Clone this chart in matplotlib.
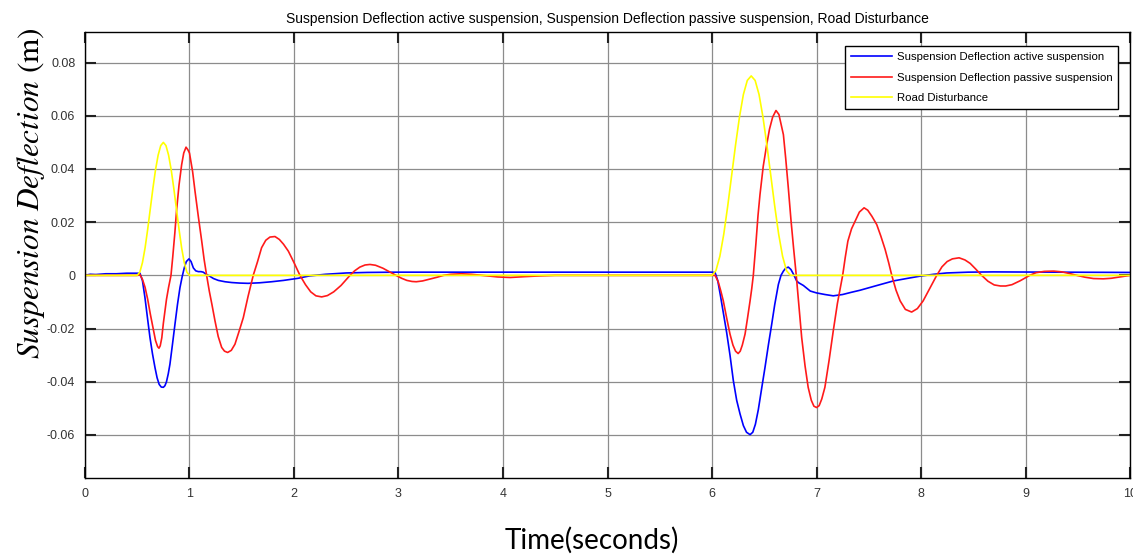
import matplotlib
matplotlib.use("Agg")
import matplotlib.pyplot as plt

# time / value pairs
t_active = [0.0, 0.05, 0.1, 0.2, 0.3, 0.4, 0.5, 0.526, 0.55, 0.574, 0.598, 0.622, 0.646,
            0.67, 0.69, 0.71, 0.73, 0.75, 0.765, 0.78, 0.797, 0.813, 0.837, 0.861, 0.885,
            0.909, 0.93, 0.95, 0.97, 0.995, 1.015, 1.037, 1.06, 1.085, 1.11, 1.132, 1.155,
            1.18, 1.23, 1.276, 1.34, 1.404, 1.48, 1.56, 1.67, 1.786, 1.9, 2.04, 2.1, 2.15,
            2.3, 2.5, 2.7, 2.98, 4.0, 5.0, 6.0, 6.03, 6.055, 6.08, 6.11, 6.14, 6.172, 6.204,
            6.236, 6.268, 6.30, 6.33, 6.364, 6.39, 6.415, 6.443, 6.475, 6.507, 6.54, 6.571,
            6.60, 6.635, 6.66, 6.683, 6.705, 6.73, 6.755, 6.78, 6.81, 6.83, 6.874, 6.94,
            7.0, 7.08, 7.16, 7.25, 7.33, 7.416, 7.57, 7.735, 7.86, 7.99, 8.12, 8.245, 8.45,
            8.69, 9.3, 10.0]
y_active = [0.0, 0.0004, 0.0003, 0.0006, 0.0006, 0.0008, 0.0008, 0.0008, -0.002, -0.0084,
            -0.016, -0.0234, -0.0295, -0.0347, -0.0385, -0.041, -0.042, -0.0421, -0.0415,
            -0.040, -0.037, -0.0334, -0.026, -0.0184, -0.011, -0.0046, -0.0005, 0.0028,
            0.0052, 0.0062, 0.0052, 0.0028, 0.0017, 0.0014, 0.0014, 0.0012, 0.0005, 0.0,
            -0.0012, -0.0019, -0.0024, -0.0027, -0.0029, -0.003, -0.0028, -0.0024, -0.0019,
            -0.0011, -0.0006, -0.0002, 0.0004, 0.0009, 0.0011, 0.0012, 0.0012, 0.0012,
            0.0012, 0.0010, -0.002, -0.0075, -0.0145, -0.0215, -0.030, -0.0396, -0.047,
            -0.0521, -0.0565, -0.059, -0.0599, -0.059, -0.056, -0.0505, -0.0425, -0.0346,
            -0.026, -0.0184, -0.011, -0.0034, 0.0, 0.0016, 0.0027, 0.0031, 0.0022, 0.0004,
            -0.0021, -0.0028, -0.0038, -0.0059, -0.0066, -0.0072, -0.0077, -0.0072, -0.0064,
            -0.0056, -0.0039, -0.0021, -0.0012, -0.0003, 0.0004, 0.0009, 0.0012, 0.0013,
            0.0012, 0.0011]

t_passive = [0.0, 0.5, 0.526, 0.55, 0.575, 0.60, 0.625, 0.65, 0.675, 0.695, 0.708, 0.72,
             0.735, 0.75, 0.765, 0.78, 0.80, 0.823, 0.84, 0.86, 0.877, 0.90, 0.925, 0.945,
             0.967, 0.985, 1.0, 1.03, 1.053, 1.085, 1.117, 1.14, 1.164, 1.19, 1.215, 1.244,
             1.275, 1.308, 1.335, 1.365, 1.40, 1.435, 1.475, 1.515, 1.56, 1.61, 1.65, 1.69,
             1.73, 1.77, 1.818, 1.86, 1.90, 1.946, 2.0, 2.057, 2.11, 2.16, 2.21, 2.265, 2.32,
             2.38, 2.45, 2.536, 2.58, 2.63, 2.68, 2.727, 2.78, 2.85, 2.91, 2.976, 3.03, 3.08,
             3.13, 3.17, 3.23, 3.3, 3.37, 3.43, 3.5, 3.6, 3.7, 3.8, 3.95, 4.07, 4.2, 4.35,
             4.5, 6.0, 6.03, 6.06, 6.085, 6.108, 6.14, 6.172, 6.2, 6.225, 6.25, 6.27, 6.29,
             6.316, 6.34, 6.364, 6.38, 6.395, 6.42, 6.44, 6.459, 6.49, 6.523, 6.55, 6.58,
             6.612, 6.64, 6.66, 6.683, 6.705, 6.73, 6.755, 6.78, 6.806, 6.83, 6.858, 6.89,
             6.92, 6.95, 6.975, 7.0, 7.025, 7.05, 7.08, 7.12, 7.16, 7.2, 7.25, 7.275, 7.30,
             7.335, 7.37, 7.41, 7.455, 7.49, 7.53, 7.576, 7.615, 7.656, 7.69, 7.72, 7.76,
             7.80, 7.85, 7.91, 7.965, 8.02, 8.08, 8.15, 8.2, 8.25, 8.30, 8.364, 8.42, 8.47,
             8.52, 8.58, 8.64, 8.7, 8.76, 8.81, 8.87, 8.95, 9.04, 9.1, 9.18, 9.27, 9.35,
             9.42, 9.49, 9.57, 9.65, 9.745, 9.82, 9.9, 10.0]
y_passive = [0.0, 0.0, 0.0003, -0.0015, -0.0045, -0.009, -0.0145, -0.0195, -0.0245, -0.0268,
             -0.0274, -0.0265, -0.0235, -0.018, -0.0135, -0.009, -0.0045, 0.0, 0.007, 0.016,
             0.0247, 0.034, 0.0416, 0.046, 0.0482, 0.0472, 0.046, 0.039, 0.0316, 0.022,
             0.0129, 0.006, 0.0, -0.006, -0.011, -0.0171, -0.023, -0.0271, -0.0285, -0.029,
             -0.0282, -0.0259, -0.021, -0.0159, -0.008, 0.0, 0.005, 0.0104, 0.0132, 0.0144,
             0.0146, 0.0135, 0.0117, 0.0091, 0.0048, 0.0, -0.0035, -0.0062, -0.0077, -0.0081,
             -0.0076, -0.0062, -0.0038, 0.0, 0.0017, 0.0031, 0.0039, 0.0041, 0.0038, 0.0027,
             0.0014, 0.0, -0.0011, -0.0019, -0.0023, -0.0024, -0.0021, -0.0014, -0.0007, 0.0,
             0.0004, 0.0006, 0.0004, 0.0, -0.0006, -0.0008, -0.0005, -0.0002, 0.0, 0.0, 0.0,
             -0.0025, -0.006, -0.0096, -0.016, -0.0221, -0.0262, -0.0285, -0.0294, -0.0285,
             -0.0262, -0.0221, -0.016, -0.0096, -0.005, 0.0, 0.012, 0.0225, 0.0304, 0.041,
             0.0491, 0.055, 0.0595, 0.062, 0.0605, 0.057, 0.0529, 0.044, 0.0329, 0.021,
             0.0104, 0.0, -0.011, -0.0234, -0.034, -0.0421, -0.047, -0.0492, -0.0497, -0.049,
             -0.0465, -0.0421, -0.032, -0.0209, -0.0105, 0.0, 0.0068, 0.0129, 0.0175, 0.0204,
             0.0238, 0.0254, 0.0245, 0.0222, 0.0191, 0.0148, 0.0098, 0.0048, 0.0, -0.0055,
             -0.0096, -0.0128, -0.0138, -0.0125, -0.0096, -0.0052, 0.0, 0.0032, 0.0052,
             0.0062, 0.0066, 0.0058, 0.0045, 0.0025, 0.0, -0.0022, -0.0036, -0.004, -0.004,
             -0.0035, -0.002, 0.0, 0.001, 0.0015, 0.0016, 0.0013, 0.0007, 0.0, -0.0007,
             -0.0012, -0.0013, -0.0011, -0.0006, 0.0]

t_road = [0.0, 0.5, 0.525, 0.55, 0.575, 0.6, 0.625, 0.65, 0.675, 0.7, 0.725, 0.75, 0.775,
          0.8, 0.825, 0.85, 0.875, 0.9, 0.925, 0.95, 0.975, 1.0, 6.0, 6.0375, 6.075, 6.1125,
          6.15, 6.1875, 6.225, 6.2625, 6.3, 6.3375, 6.375, 6.4125, 6.45, 6.4875, 6.525,
          6.5625, 6.6, 6.6375, 6.675, 6.7125, 6.75, 10.0]
y_road = [0.0, 0.0, 0.0012, 0.0048, 0.0103, 0.0173, 0.025, 0.0327, 0.0397, 0.0452, 0.0488,
          0.05, 0.0488, 0.0452, 0.0397, 0.0327, 0.025, 0.0173, 0.0103, 0.0048, 0.0012, 0.0,
          0.0, 0.0018, 0.0072, 0.0155, 0.026, 0.0375, 0.049, 0.0595, 0.068, 0.0733, 0.075,
          0.0733, 0.068, 0.0595, 0.049, 0.0375, 0.026, 0.0155, 0.0072, 0.0018, 0.0, 0.0]

yticks = [-0.06, -0.04, -0.02, 0, 0.02, 0.04, 0.06, 0.08]
ytick_labels = ["-0.06", "-0.04", "-0.02", "0", "0.02", "0.04", "0.06", "0.08"]
xticks = list(range(11))

narrow = ["Liberation Sans Narrow", "Liberation Sans", "DejaVu Sans"]

fig = plt.figure(figsize=(11.33, 5.56), dpi=100)
ax = fig.add_axes([0.075, 0.1403, 0.9224, 0.8016])

ax.plot(t_active, y_active, color="blue", lw=1.2,
        label="Suspension Deflection active suspension")
ax.plot(t_passive, y_passive, color="#ff1a1a", lw=1.2,
        label="Suspension Deflection passive suspension")
ax.plot(t_road, y_road, color="yellow", lw=1.2, label="Road Disturbance")

ax.set_xlim(0, 10)
ax.set_ylim(-0.0762, 0.0914)
ax.set_xticks(xticks)
ax.set_yticks(yticks)
ax.set_yticklabels(ytick_labels)
ax.grid(True, color="#8c8c8c", lw=0.9)
ax.tick_params(direction="in", length=8, width=1.5, color="#222222",
               top=True, right=True, labelsize=9, labelcolor="#333333", pad=7)
for lab in ax.get_xticklabels() + ax.get_yticklabels():
    lab.set_family(narrow)
for s in ax.spines.values():
    s.set_linewidth(1.0)

ax.set_title("Suspension Deflection active suspension, Suspension Deflection passive "
             "suspension, Road Disturbance", fontsize=10, family=narrow, pad=7)

plt.rcParams["mathtext.fontset"] = "stix"
fig.text(0.027, 0.652, r"$Suspension\ Deflection$ (m)", rotation=90, fontsize=22.5,
         family="STIXGeneral", ha="center", va="center")
fig.text(0.522, 0.029, "Time(seconds)", fontsize=20, family="Lato",
         ha="center", va="center")

leg = ax.legend(loc="upper right", bbox_to_anchor=(0.9885, 0.969), borderaxespad=0,
                fancybox=False, edgecolor="black", framealpha=1,
                prop={"family": narrow, "size": 8.2}, handlelength=3.6,
                handletextpad=0.45, labelspacing=0.95, borderpad=0.5)
leg.get_frame().set_linewidth(1.0)

fig.savefig("out.png", dpi=100)
